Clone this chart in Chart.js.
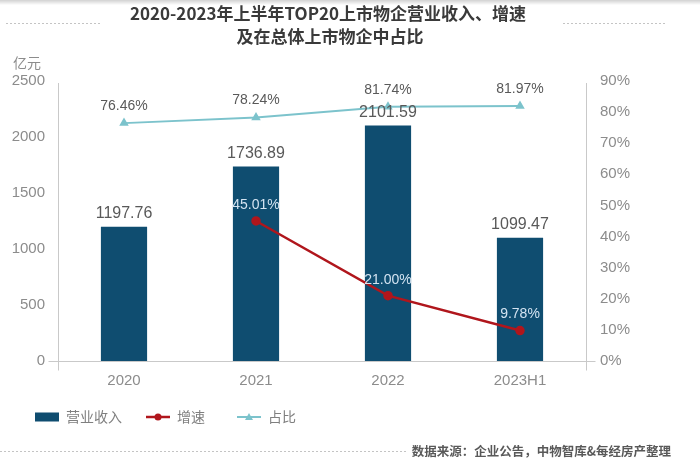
<!DOCTYPE html>
<html><head><meta charset="utf-8">
<script src="https://cdn.jsdelivr.net/npm/chart.js@4.4.1/dist/chart.umd.min.js"></script>
<style>html,body{margin:0;padding:0;background:#fff}canvas{display:block}</style>
</head><body>
<canvas id="c" width="700" height="465"></canvas>
<script>
const categories = ['2020', '2021', '2022', '2023H1'];
const revenue = [1197.76, 1736.89, 2101.59, 1099.47];
const growth = [null, 45.01, 21.00, 9.78];
const share = [76.46, 78.24, 81.74, 81.97];
const seriesNames = ['营业收入', '增速', '占比'];
const leftMax = 2500, leftStep = 500;
const rightMax = 90, rightStep = 10;
const titleLines = ['2020-2023年上半年TOP20上市物企营业收入、增速', '及在总体上市物企中占比'];
const unitLabel = '亿元';
const sourceText = '数据来源：企业公告，中物智库&每经房产整理';

const NUM = '"Liberation Sans", Arial, sans-serif';
const CJK = '"Noto Sans CJK SC", "Noto Sans", sans-serif';
const C_BAR = '#0f4d70', C_GROWTH = '#b0161c', C_SHARE = '#7cc3cc';
const C_TICK = '#8c8c8c', C_AXIS = '#c9c9c9', C_LABEL = '#595959';

const fmt2 = v => v.toFixed(2);

const decor = {
  id: 'decor',
  beforeDatasetsDraw(chart) {
    const ctx = chart.ctx, a = chart.chartArea;
    ctx.save();
    ctx.strokeStyle = C_AXIS; ctx.lineWidth = 1;
    ctx.beginPath();
    const l = Math.round(a.left) + 0.5, r = Math.round(a.right) + 0.5, b = Math.round(a.bottom) + 0.5;
    ctx.moveTo(l, a.top + 2); ctx.lineTo(l, b + 9);
    ctx.moveTo(r, a.top + 2); ctx.lineTo(r, b + 9);
    ctx.moveTo(l - 10, b); ctx.lineTo(r + 9, b);
    ctx.stroke();
    ctx.restore();
  },
  afterDraw(chart) {
    const ctx = chart.ctx;
    ctx.save();
    const g = ctx.createLinearGradient(0, 0, 0, 5);
    g.addColorStop(0, 'rgba(0,0,0,0.18)'); g.addColorStop(1, 'rgba(0,0,0,0)');
    ctx.fillStyle = g; ctx.fillRect(0, 0, 700, 5);
    ctx.fillStyle = '#3a3a3a';
    ctx.font = 'bold 17px ' + CJK;
    ctx.textAlign = 'center'; ctx.textBaseline = 'middle';
    ctx.fillText(titleLines[0], 328, 14);
    ctx.fillText(titleLines[1], 330, 37);
    ctx.strokeStyle = '#c4c4c4'; ctx.lineWidth = 1; ctx.setLineDash([2, 2]);
    ctx.beginPath();
    ctx.moveTo(6, 23.5); ctx.lineTo(100, 23.5);
    ctx.moveTo(563, 23.5); ctx.lineTo(667, 23.5);
    ctx.moveTo(0, 451.5); ctx.lineTo(407, 451.5);
    ctx.stroke();
    ctx.setLineDash([]);
    ctx.fillStyle = C_TICK; ctx.font = '14px ' + CJK;
    ctx.textAlign = 'left';
    ctx.fillText(unitLabel, 13, 63);
    const ly = 417;
    ctx.font = '14px ' + CJK;
    const ds = chart.data.datasets;
    ctx.fillStyle = ds[2].backgroundColor; ctx.fillRect(35, ly - 4.5, 24, 9);
    ctx.fillStyle = '#7f7f7f'; ctx.fillText(ds[2].label, 66, ly);
    ctx.strokeStyle = ds[1].borderColor; ctx.lineWidth = 2.5;
    ctx.beginPath(); ctx.moveTo(146, ly); ctx.lineTo(170, ly); ctx.stroke();
    ctx.fillStyle = ds[1].borderColor; ctx.beginPath(); ctx.arc(158, ly, 3.5, 0, Math.PI * 2); ctx.fill();
    ctx.fillStyle = '#7f7f7f'; ctx.fillText(ds[1].label, 177, ly);
    ctx.strokeStyle = ds[0].borderColor; ctx.lineWidth = 2;
    ctx.beginPath(); ctx.moveTo(237, ly); ctx.lineTo(261, ly); ctx.stroke();
    ctx.fillStyle = ds[0].borderColor; ctx.beginPath();
    ctx.moveTo(249, ly - 4); ctx.lineTo(253, ly + 3); ctx.lineTo(245, ly + 3); ctx.closePath(); ctx.fill();
    ctx.fillStyle = '#7f7f7f'; ctx.fillText(ds[0].label, 268, ly);
    ctx.fillStyle = '#595959'; ctx.font = 'bold 12.5px ' + CJK;
    ctx.textAlign = 'right';
    ctx.fillText(sourceText, 671, 451);
    ctx.restore();
  }
};

const valueLabels = {
  id: 'valueLabels',
  afterDatasetsDraw(chart) {
    const ctx = chart.ctx;
    ctx.save();
    ctx.textAlign = 'center'; ctx.textBaseline = 'middle';
    const mb = chart.getDatasetMeta(2);
    ctx.font = '16px ' + NUM; ctx.fillStyle = C_LABEL;
    mb.data.forEach((el, i) => ctx.fillText(fmt2(revenue[i]), el.x, el.y - 13));
    const ms = chart.getDatasetMeta(0);
    ctx.font = '14px ' + NUM; ctx.fillStyle = C_LABEL;
    ms.data.forEach((el, i) => ctx.fillText(fmt2(share[i]) + '%', el.x, el.y - 17));
    const mg = chart.getDatasetMeta(1);
    ctx.fillStyle = '#d3e3f1';
    mg.data.forEach((el, i) => {
      if (growth[i] == null) return;
      ctx.fillText(fmt2(growth[i]) + '%', el.x, el.y - 16);
    });
    ctx.restore();
  }
};

new Chart(document.getElementById('c'), {
  data: {
    labels: categories,
    datasets: [
      { type: 'line', label: seriesNames[2], data: share, yAxisID: 'y1', order: 1,
        borderColor: C_SHARE, backgroundColor: C_SHARE, borderWidth: 2,
        pointStyle: 'triangle', pointRadius: 3.5, tension: 0 },
      { type: 'line', label: seriesNames[1], data: growth, yAxisID: 'y1', order: 2,
        borderColor: C_GROWTH, backgroundColor: C_GROWTH, borderWidth: 2.5,
        pointStyle: 'circle', pointRadius: 3.5, tension: 0 },
      { type: 'bar', label: seriesNames[0], data: revenue, yAxisID: 'y', order: 3,
        backgroundColor: C_BAR, barPercentage: 0.35, categoryPercentage: 1 }
    ]
  },
  options: {
    responsive: false,
    animation: false,
    layout: { padding: { top: 81, bottom: 74, left: 0, right: 0 } },
    plugins: { legend: { display: false }, tooltip: { enabled: false }, title: { display: false } },
    scales: {
      x: {
        grid: { display: false, drawTicks: false }, border: { display: false },
        ticks: { color: C_TICK, font: { family: NUM, size: 15 }, padding: 11 },
        afterFit(s) { s.height = 30; }
      },
      y: {
        position: 'left', min: 0, max: leftMax,
        grid: { display: false, drawTicks: false }, border: { display: false },
        ticks: { stepSize: leftStep, autoSkip: false, color: C_TICK, font: { family: NUM, size: 15 }, padding: 13,
          callback: v => String(v) },
        afterFit(s) { s.width = 58; }
      },
      y1: {
        position: 'right', min: 0, max: rightMax,
        grid: { display: false, drawTicks: false }, border: { display: false },
        ticks: { stepSize: rightStep, autoSkip: false, color: C_TICK, font: { family: NUM, size: 15 }, padding: 14,
          callback: v => v + '%' },
        afterFit(s) { s.width = 114; }
      }
    }
  },
  plugins: [decor, valueLabels]
});
</script>
</body></html>
